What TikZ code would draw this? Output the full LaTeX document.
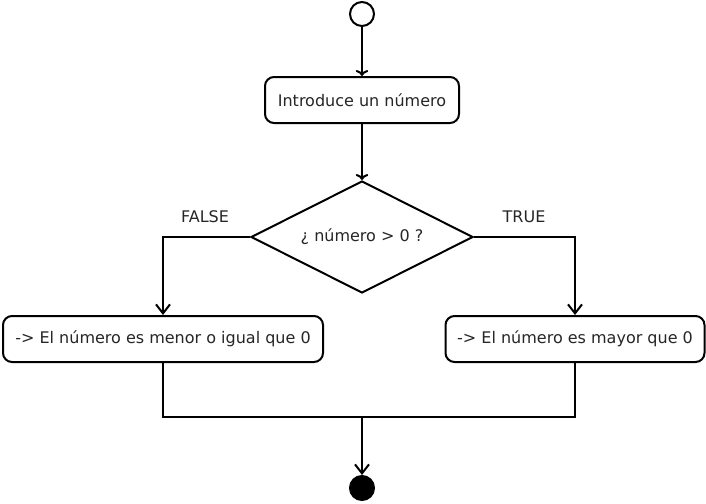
\documentclass[tikz,border=0pt]{standalone}
\usepackage{fontspec}
\setmainfont{DejaVu Sans}
\usepackage{tikz}
\usetikzlibrary{arrows.meta, calc, positioning, shapes.geometric}
\tikzstyle{activity}	=[rectangle, rounded corners=9pt, draw=black, line width=2pt, fill=white, text centered, text=black!85, minimum height=46pt, inner xsep=10pt]
\tikzstyle{decision}	=[diamond, draw=black, line width=2pt, fill=white, text=black!85, aspect=2, minimum width=222pt, minimum height=112pt, inner sep=0pt]
\tikzstyle{initial}		=[circle, draw=black, line width=2pt, fill=white, minimum size=24pt, inner sep=0pt]
\tikzstyle{final}		=[circle, draw=black, line width=2pt, fill=black, minimum size=24pt, inner sep=0pt]
\tikzstyle{guard}		=[text=black!85, inner sep=0pt]
\tikzstyle{flow}		=[line width=2pt, -{Straight Barb[length=9pt, width=14pt, line width=2pt]}]
\tikzstyle{wire}		=[line width=2pt]

\begin{document}
\begin{tikzpicture}[x=1pt, y=-1pt, font=\fontsize{16}{19}\selectfont]

	\useasboundingbox (0,0) rectangle (706,503);

	\node (Start)		[initial]					at (362, 14)		{};
	\node (Input)		[activity, minimum width=194pt]	at (362, 100)		{Introduce un número}		edge[flow, <-] (Start) ;
	\node (Check)		[decision]					at (362, 237)		{¿ número > 0 ?}			edge[flow, <-] (Input) ;

	\node (False)		[guard]						at (205, 217)		{FALSE};
	\node (True)		[guard]						at (524, 217)		{TRUE};

	\node (Lower)		[activity, minimum width=320pt]	at (163, 339)		{-> El número es menor o igual que 0};
	\node (Upper)		[activity, minimum width=259pt]	at (575, 339)		{-> El número es mayor que 0};

	\coordinate (Join)								at (362, 417);
	\node (End)			[final]						at (362, 488)		{};

	\draw[flow]	(Check.west) -| (Lower.north);
	\draw[flow]	(Check.east) -| (Upper.north);
	\draw[wire]	(Lower.south) |- (Join) -| (Upper.south);
	\draw[flow]	(Join) -- (End.north);

\end{tikzpicture}
\end{document}
